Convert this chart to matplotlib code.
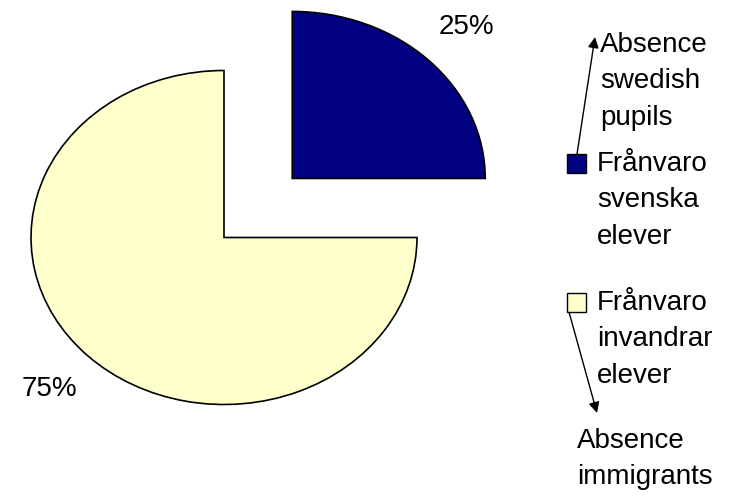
import matplotlib.pyplot as plt
from matplotlib.patches import Rectangle

plt.rcParams['font.family'] = ['Liberation Sans', 'DejaVu Sans']

labels = ['Frånvaro\nsvenska\nelever', 'Frånvaro\ninvandrar\nelever']
notes = ['Absence\nswedish\npupils', 'Absence\nimmigrants']
shares = [25, 75]
colors = ['#000080', '#FFFFCC']
explode = [0.5, 0.0]

W, H = 745, 497


def fx(x, y):
    # pixel position (from top left) -> figure fraction
    return x / W, 1 - y / H


fig = plt.figure(figsize=(W / 100, H / 100), dpi=100)
ax = fig.add_axes([0, 0, 1, 1])

wedges, texts, autotexts = ax.pie(
    shares, colors=colors, explode=explode, startangle=90, counterclock=False,
    autopct='%1.0f%%', pctdistance=1.28,
    wedgeprops=dict(edgecolor='black', linewidth=1.2),
    textprops=dict(fontsize=20, color='black'))

# stretched ellipse like the spreadsheet original
ax.set_aspect('auto')
cx, cy, rx, ry = 224, 237.5, 193, 167
ax.set_xlim(-cx / rx, (W - cx) / rx)
ax.set_ylim((cy - H) / ry, cy / ry)
ax.axis('off')

# legend drawn by hand
fs = 20
ls = 1.52
box_y = [154, 293]
for c, lab, by in zip(colors, labels, box_y):
    x0, y0 = fx(567, by + 19)
    fig.patches.append(Rectangle((x0, y0), 19 / W, 19 / H, transform=fig.transFigure,
                                 facecolor=c, edgecolor='black', linewidth=1))
    fig.text(*fx(597, by - 3), lab, fontsize=fs, va='top', ha='left', linespacing=ls)

fig.text(*fx(600, 32), notes[0], fontsize=fs, va='top', ha='left', linespacing=ls)
fig.text(*fx(577, 428), notes[1], fontsize=fs, va='top', ha='left', linespacing=ls)

arrow = dict(arrowstyle='-|>', color='black', lw=1, mutation_scale=16, shrinkA=0, shrinkB=0)
ax.annotate('', xy=fx(595, 37), xycoords='figure fraction',
            xytext=fx(577, 154), textcoords='figure fraction', arrowprops=arrow)
ax.annotate('', xy=fx(597, 413), xycoords='figure fraction',
            xytext=fx(569, 312), textcoords='figure fraction', arrowprops=arrow)

fig.savefig('out.png', dpi=100)
